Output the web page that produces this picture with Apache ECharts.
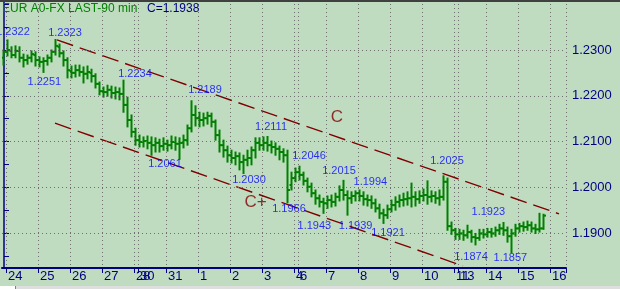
<!DOCTYPE html>
<html>
<head>
<meta charset="utf-8">
<script src="https://cdn.jsdelivr.net/npm/echarts/dist/echarts.min.js"></script>
<style>
html,body{margin:0;padding:0;background:#c0dcc0;}
#chart{width:620px;height:289px;}
</style>
</head>
<body>
<div id="chart"></div>
<script>
// ---- data (90-min EUR bars, grouped in pairs) ----
const symbolTitle = 'EUR A0-FX LAST-90 min';
const dayLabels   = ['24','25','26','27','28','30','31','1','2','3','4','6','7','8','9','10','11','13','14','15','16'];
const dayStartBar = [1,9,17,25,33,34,41,49,57,65,73,74,81,89,97,105,113,114,121,129,137];
const barSlots = 141;

const opens = [
1.2283,1.2296,1.2298,1.2289,1.2298,1.2283,1.2278,1.2283,1.2289,1.2278,
1.2274,1.2276,1.2283,1.2296,1.2307,1.2293,1.2278,1.2254,1.2250,1.2256,
1.2252,1.2248,1.2250,1.2243,1.2226,1.2210,1.2208,1.2213,1.2206,1.2208,
1.2204,1.2180,1.2147,1.2121,1.2103,1.2099,1.2101,1.2097,1.2092,1.2097,
1.2090,1.2095,1.2092,1.2099,1.2095,1.2097,1.2103,1.2129,1.2158,1.2151,
1.2147,1.2151,1.2156,1.2143,1.2114,1.2092,1.2081,1.2070,1.2064,1.2068,
1.2055,1.2060,1.2064,1.2081,1.2097,1.2092,1.2097,1.2092,1.2088,1.2084,
1.2077,1.2070,1.2005,1.2020,1.2033,1.2027,1.2014,1.2001,1.1987,1.1976,
1.1968,1.1965,1.1972,1.1968,1.1979,1.1994,1.1983,1.1976,1.1981,1.1987,
1.1981,1.1974,1.1972,1.1965,1.1954,1.1943,1.1939,1.1952,1.1961,1.1968,
1.1972,1.1974,1.1976,1.1979,1.1974,1.1981,1.1983,1.1979,1.1981,1.1976,
1.1979,1.2012,1.1915,1.1906,1.1897,1.1899,1.1895,1.1902,1.1891,1.1889,
1.1899,1.1897,1.1902,1.1899,1.1906,1.1910,1.1906,1.1893,1.1899,1.1910,
1.1915,1.1913,1.1917,1.1910,1.1908,1.1910];
const closes = [
1.2296,1.2300,1.2289,1.2298,1.2283,1.2278,1.2283,1.2291,1.2278,1.2274,
1.2276,1.2283,1.2296,1.2309,1.2293,1.2278,1.2256,1.2250,1.2256,1.2252,
1.2248,1.2252,1.2243,1.2226,1.2210,1.2208,1.2213,1.2206,1.2208,1.2204,
1.2180,1.2147,1.2121,1.2103,1.2099,1.2101,1.2097,1.2092,1.2097,1.2090,
1.2095,1.2092,1.2099,1.2095,1.2097,1.2103,1.2129,1.2158,1.2151,1.2147,
1.2151,1.2156,1.2143,1.2114,1.2092,1.2081,1.2070,1.2064,1.2068,1.2055,
1.2060,1.2064,1.2081,1.2097,1.2092,1.2097,1.2092,1.2088,1.2084,1.2077,
1.2070,1.1994,1.2020,1.2033,1.2027,1.2014,1.2001,1.1987,1.1976,1.1968,
1.1965,1.1972,1.1968,1.1979,1.1994,1.1983,1.1976,1.1981,1.1987,1.1981,
1.1974,1.1972,1.1965,1.1954,1.1943,1.1939,1.1952,1.1961,1.1968,1.1972,
1.1974,1.1976,1.1979,1.1974,1.1981,1.1983,1.1979,1.1981,1.1976,1.1979,
1.2012,1.1915,1.1906,1.1897,1.1899,1.1895,1.1902,1.1891,1.1889,1.1899,
1.1897,1.1902,1.1899,1.1906,1.1910,1.1906,1.1893,1.1899,1.1910,1.1915,
1.1913,1.1917,1.1910,1.1908,1.1910,1.1938];
const lows = [
1.2267,1.2287,1.2283,1.2283,1.2274,1.2263,1.2269,1.2274,1.2265,1.2263,
1.2251,1.2267,1.2274,1.2289,1.2285,1.2265,1.2239,1.2239,1.2241,1.2243,
1.2228,1.2237,1.2230,1.2217,1.2202,1.2197,1.2199,1.2195,1.2193,1.2191,
1.2164,1.2132,1.2110,1.2092,1.2088,1.2088,1.2084,1.2070,1.2077,1.2077,
1.2081,1.2079,1.2084,1.2081,1.2061,1.2086,1.2092,1.2121,1.2134,1.2132,
1.2134,1.2138,1.2132,1.2103,1.2077,1.2066,1.2055,1.2053,1.2049,1.2038,
1.2030,1.2047,1.2049,1.2064,1.2081,1.2081,1.2079,1.2075,1.2070,1.2060,
1.2055,1.1966,1.1994,1.2012,1.2016,1.2005,1.1990,1.1979,1.1963,1.1957,
1.1943,1.1954,1.1957,1.1959,1.1970,1.1972,1.1939,1.1965,1.1970,1.1970,
1.1961,1.1959,1.1954,1.1946,1.1932,1.1921,1.1932,1.1946,1.1950,1.1957,
1.1959,1.1961,1.1957,1.1959,1.1965,1.1970,1.1963,1.1968,1.1965,1.1961,
1.1972,1.1906,1.1897,1.1886,1.1886,1.1884,1.1889,1.1880,1.1874,1.1884,
1.1889,1.1891,1.1891,1.1893,1.1897,1.1895,1.1880,1.1857,1.1893,1.1902,
1.1904,1.1906,1.1902,1.1899,1.1902,1.1908];
const highs = [
1.2300,1.2322,1.2307,1.2309,1.2307,1.2291,1.2289,1.2298,1.2296,1.2285,
1.2283,1.2289,1.2300,1.2323,1.2313,1.2298,1.2283,1.2265,1.2267,1.2267,
1.2263,1.2265,1.2258,1.2248,1.2230,1.2219,1.2223,1.2221,1.2219,1.2217,
1.2234,1.2197,1.2158,1.2129,1.2114,1.2110,1.2112,1.2110,1.2108,1.2105,
1.2108,1.2103,1.2112,1.2110,1.2108,1.2114,1.2136,1.2189,1.2178,1.2164,
1.2162,1.2164,1.2162,1.2147,1.2125,1.2103,1.2090,1.2081,1.2077,1.2075,
1.2070,1.2081,1.2088,1.2108,1.2108,1.2110,1.2111,1.2101,1.2097,1.2090,
1.2084,1.2081,1.2033,1.2042,1.2046,1.2033,1.2020,1.2009,1.1994,1.1983,
1.1976,1.1981,1.1983,1.1987,1.2003,1.2015,1.1992,1.1990,1.1992,1.1994,
1.1990,1.1983,1.1981,1.1974,1.1963,1.1952,1.1961,1.1972,1.1979,1.1983,
1.1987,1.1990,1.2009,1.1990,1.1992,1.1996,1.2014,1.1992,1.1990,1.1994,
1.2025,1.2020,1.1924,1.1910,1.1908,1.1906,1.1917,1.1906,1.1899,1.1908,
1.1908,1.1910,1.1910,1.1913,1.1919,1.1923,1.1913,1.1908,1.1919,1.1921,
1.1924,1.1926,1.1924,1.1919,1.1943,1.1941];

// price-axis tick labels
const yTickValues = [1.19, 1.20, 1.21, 1.22, 1.23];
const yMin = 1.18235, yMax = 1.24093;

// channel lines: [bar position, price]
const upperChannel = [[13.25, 1.2322], [138.75, 1.1942]];
const lowerChannel = [[12.75, 1.2140], [114.75, 1.1828]];

// swing annotations: [bar position, price]
const swingPoints = [
  [2.25, 1.2322], [15.25, 1.2323], [10.1, 1.2251], [32.75, 1.2234], [50.25, 1.2189],
  [66.75, 1.2111], [40.25, 1.2061], [61.25, 1.2030], [76.25, 1.2046], [83.75, 1.2015],
  [91.6, 1.1994], [71.25, 1.1966], [77.6, 1.1943], [87.9, 1.1939], [96, 1.1921],
  [110.75, 1.2025], [121.1, 1.1923], [116.75, 1.1874], [126.6, 1.1857]
];
// label vertical offsets (px), style only
const swingDy = [-7.5,-6.5,9.6,-6,-11, -9.5,4.6,6.5,-10,-9, -8,6,13,11,10, -15,-11,12,5];

// wave labels: [text, bar position, price]
const waveLabels = [['C', 83.25, 1.2153], ['C+', 62.9, 1.1968]];

// ---- build ----
const categories = [];
const labelAt = {};
for (let i = 0; i < barSlots; i++) categories.push('t' + i);
dayStartBar.forEach((b, k) => { labelAt['t' + b] = dayLabels[k]; });
const isDayStart = (idx, val) => Object.prototype.hasOwnProperty.call(labelAt, val);

const ohlcRows = opens.map((o, i) => [i, o, closes[i], lows[i], highs[i]]);
const lastClose = closes[closes.length - 1];

const FONT = '"Liberation Sans", Arial, sans-serif';
const NAVY = '#000080';
const BAR_GREEN = '#008000';
const GRID_GRAY = '#6e6e6e';

function renderOHLC(params, api) {
  const i = api.value(0);
  const pO = api.coord([i, api.value(1)]);
  const pC = api.coord([i, api.value(2)]);
  const pL = api.coord([i, api.value(3)]);
  const pH = api.coord([i, api.value(4)]);
  const x = Math.round(pL[0]) - 0.5;
  return {
    type: 'group',
    children: [
      {type: 'line', shape: {x1: x, y1: pL[1] + 0.5, x2: x, y2: pH[1] - 0.5},
       style: {stroke: BAR_GREEN, lineWidth: 2}},
      {type: 'line', shape: {x1: x - 2, y1: pO[1], x2: x, y2: pO[1]},
       style: {stroke: BAR_GREEN, lineWidth: 2}},
      {type: 'line', shape: {x1: x, y1: pC[1], x2: x + 2.5, y2: pC[1]},
       style: {stroke: BAR_GREEN, lineWidth: 2}}
    ]
  };
}

const chart = echarts.init(document.getElementById('chart'), null, {renderer: 'canvas'});
chart.setOption({
  animation: false,
  backgroundColor: '#c0dcc0',
  grid: {left: 2, right: 54, top: 0, bottom: 21},
  title: [
    {text: symbolTitle, left: 2, top: 3, padding: 0,
     textStyle: {color: '#008000', fontSize: 12, fontWeight: 'normal', fontFamily: FONT}},
    {text: 'C=' + lastClose.toFixed(4), left: 147, top: 3, padding: 0,
     textStyle: {color: NAVY, fontSize: 12, fontWeight: 'normal', fontFamily: FONT}}
  ],
  xAxis: [
    {
      type: 'category', data: categories, boundaryGap: true,
      axisLine: {show: true, lineStyle: {color: NAVY, width: 2}},
      axisTick: {show: true, interval: isDayStart, length: 5, lineStyle: {color: NAVY, width: 1}},
      axisLabel: {show: true, interval: isDayStart, formatter: v => labelAt[v] || '',
                  align: 'left', margin: 2, color: NAVY, fontSize: 13, fontFamily: FONT},
      splitLine: {show: true, interval: isDayStart, lineStyle: {color: GRID_GRAY, width: 1, type: [1, 3]}}
    },
    {type: 'value', min: -0.5, max: barSlots - 0.5, show: false}
  ],
  yAxis: [{
    type: 'value', position: 'right', min: yMin, max: yMax, splitNumber: 11, scale: true,
    axisLine: {show: true, lineStyle: {color: NAVY, width: 1.5}},
    axisTick: {show: true, length: 5, lineStyle: {color: NAVY, width: 1}},
    axisLabel: {
      show: true, margin: 6, color: NAVY, fontSize: 13, fontFamily: FONT,
      formatter: v => yTickValues.some(t => Math.abs(t - v) < 1e-7) ? v.toFixed(4) : ''
    },
    splitLine: {show: false}
  }],
  series: [
    {
      name: 'grid', type: 'line', xAxisIndex: 1, yAxisIndex: 0, z: 1, silent: true,
      data: [[0, yTickValues[0]]], symbol: 'none', lineStyle: {opacity: 0},
      markLine: {
        silent: true, symbol: 'none', animation: false, label: {show: false},
        lineStyle: {color: GRID_GRAY, width: 1, type: [1, 3]},
        data: yTickValues.map(v => ({yAxis: v}))
      }
    },
    {
      name: 'EUR', type: 'custom', xAxisIndex: 0, yAxisIndex: 0, data: ohlcRows, z: 3,
      renderItem: renderOHLC, encode: {x: 0, y: [1, 2, 3, 4]}, clip: true
    },
    {
      name: 'upper', type: 'line', xAxisIndex: 1, yAxisIndex: 0, data: upperChannel, z: 4,
      symbol: 'none', lineStyle: {color: '#800000', width: 1.4, type: [17, 7]}
    },
    {
      name: 'lower', type: 'line', xAxisIndex: 1, yAxisIndex: 0, data: lowerChannel, z: 4,
      symbol: 'none', lineStyle: {color: '#800000', width: 1.4, type: [17, 7]}
    },
    {
      name: 'swings', type: 'scatter', xAxisIndex: 1, yAxisIndex: 0, symbolSize: 0, z: 5,
      data: swingPoints.map((p, i) => ({value: p, label: {offset: [0, swingDy[i]]}})),
      label: {show: true, position: 'inside', color: '#0000ff', fontSize: 11, fontFamily: FONT,
              formatter: p => p.value[1].toFixed(4)}
    },
    {
      name: 'waves', type: 'scatter', xAxisIndex: 1, yAxisIndex: 0, symbolSize: 0, z: 5,
      data: waveLabels.map(w => ({value: [w[1], w[2]], name: w[0]})),
      label: {show: true, position: 'inside', color: '#800000', fontSize: 17, fontFamily: FONT,
              formatter: p => p.name}
    }
  ],
  graphic: [
    {type: 'rect', left: 0, top: 0, shape: {width: 620, height: 2}, style: {fill: '#404040'}, z: 100},
    {type: 'rect', left: 0, top: 286, shape: {width: 620, height: 3}, style: {fill: '#dedede'}, z: 100},
    {type: 'rect', left: 0, top: 286, shape: {width: 15, height: 3}, style: {fill: '#ffffff'}, z: 101},
    {type: 'rect', left: 15, top: 286, shape: {width: 1, height: 3}, style: {fill: '#808080'}, z: 101}
  ]
});
</script>
</body>
</html>
